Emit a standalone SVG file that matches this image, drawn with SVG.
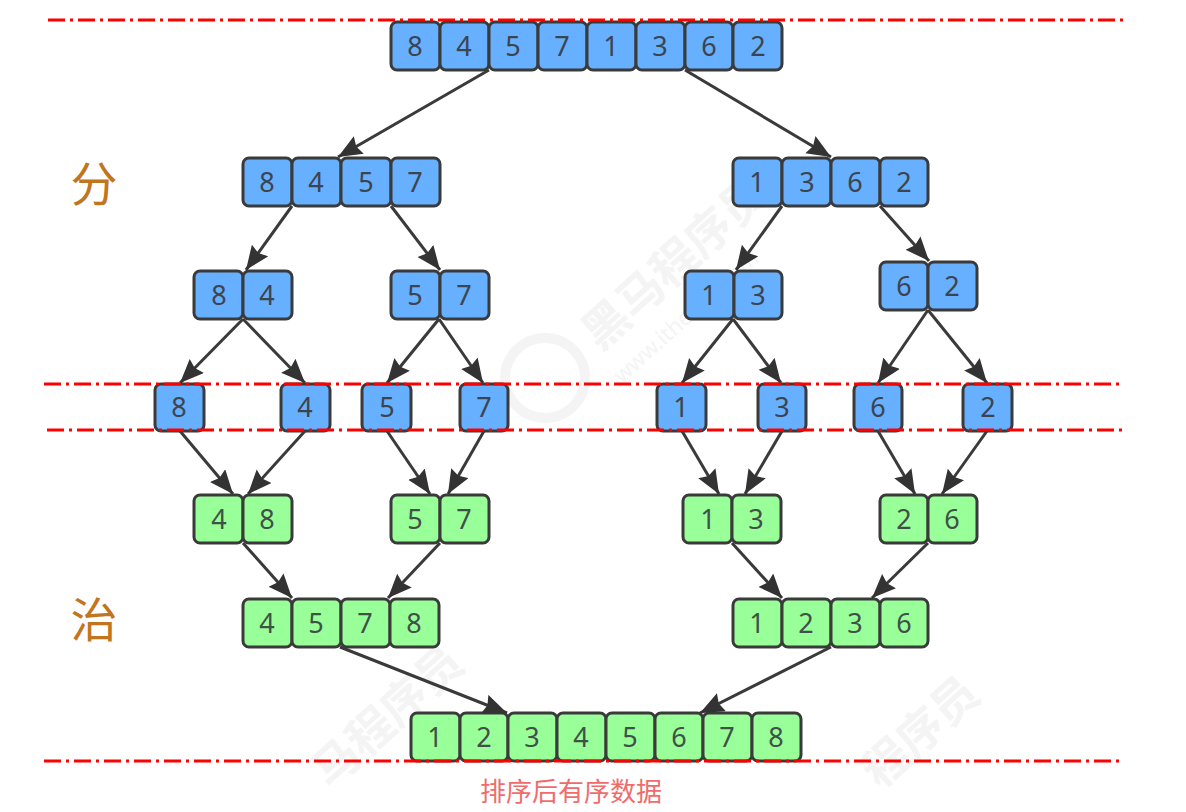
<svg xmlns="http://www.w3.org/2000/svg" width="1186" height="812" viewBox="0 0 1186 812">
<defs>
<marker id="ah" markerUnits="userSpaceOnUse" markerWidth="26" markerHeight="22" refX="24" refY="10" orient="auto"><path d="M0 0L24 10L0 20L3 10Z" fill="#333"/></marker>
</defs>
<style>
.b rect{fill:#66b0ff;stroke:#3a3a3a;stroke-width:3}
.g rect{fill:#99ff99;stroke:#3a3a3a;stroke-width:3}
.b text,.g text{font:27px "Noto Sans","DejaVu Sans",sans-serif;text-anchor:middle;fill:#3c4450}
.g text{fill:#3f5247}
#connectors line{stroke:#3a3a3a;stroke-width:3;marker-end:url(#ah)}
#guides line{stroke:#ff0000;stroke-width:3;stroke-dasharray:17 5 3 5}
.side{font:47px "Noto Sans CJK SC",sans-serif;fill:#c2751f;text-anchor:middle}
.cap{font:26px "Noto Sans CJK SC",sans-serif;fill:#f06c6c}
.wm{font:bold 46px "Noto Sans CJK SC",sans-serif;fill:#f4f4f4}
.wu{font:22px "Noto Sans",sans-serif;fill:#f4f4f4}
</style>
<g id="watermark">
<text class="wm" transform="translate(600 352) rotate(-42)">黑马程序员</text>
<text class="wu" transform="translate(622 384) rotate(-42)">www.itheima.com</text>
<circle cx="545" cy="378" r="40" fill="none" stroke="#f4f4f4" stroke-width="10"/>
<text class="wm" transform="translate(330 790) rotate(-42)">马程序员</text>
<text class="wm" transform="translate(880 790) rotate(-42)">程序员</text>
</g>
<g id="n0" class="b"><rect x="391" y="22" width="49" height="48" rx="6"/><text x="415" y="56">8</text><rect x="440" y="22" width="49" height="48" rx="6"/><text x="464" y="56">4</text><rect x="489" y="22" width="49" height="48" rx="6"/><text x="513" y="56">5</text><rect x="538" y="22" width="49" height="48" rx="6"/><text x="562" y="56">7</text><rect x="587" y="22" width="49" height="48" rx="6"/><text x="611" y="56">1</text><rect x="636" y="22" width="49" height="48" rx="6"/><text x="660" y="56">3</text><rect x="685" y="22" width="48" height="48" rx="6"/><text x="709" y="56">6</text><rect x="733" y="22" width="49" height="48" rx="6"/><text x="758" y="56">2</text></g>
<g id="n1" class="b"><rect x="243" y="158" width="49" height="48" rx="6"/><text x="267" y="192">8</text><rect x="292" y="158" width="49" height="48" rx="6"/><text x="316" y="192">4</text><rect x="341" y="158" width="50" height="48" rx="6"/><text x="366" y="192">5</text><rect x="391" y="158" width="49" height="48" rx="6"/><text x="415" y="192">7</text></g>
<g id="n2" class="b"><rect x="733" y="158" width="49" height="48" rx="6"/><text x="757" y="192">1</text><rect x="782" y="158" width="49" height="48" rx="6"/><text x="807" y="192">3</text><rect x="831" y="158" width="49" height="48" rx="6"/><text x="855" y="192">6</text><rect x="880" y="158" width="48" height="48" rx="6"/><text x="904" y="192">2</text></g>
<g id="n3" class="b"><rect x="194" y="271" width="49" height="48" rx="6"/><text x="219" y="305">8</text><rect x="243" y="271" width="49" height="48" rx="6"/><text x="267" y="305">4</text></g>
<g id="n4" class="b"><rect x="391" y="271" width="49" height="48" rx="6"/><text x="415" y="305">5</text><rect x="440" y="271" width="49" height="48" rx="6"/><text x="464" y="305">7</text></g>
<g id="n5" class="b"><rect x="685" y="271" width="49" height="48" rx="6"/><text x="709" y="305">1</text><rect x="734" y="271" width="48" height="48" rx="6"/><text x="758" y="305">3</text></g>
<g id="n6" class="b"><rect x="880" y="262" width="48" height="48" rx="6"/><text x="904" y="296">6</text><rect x="928" y="262" width="49" height="48" rx="6"/><text x="952" y="296">2</text></g>
<g id="n7" class="b"><rect x="155" y="384" width="49" height="47" rx="6"/><text x="179" y="417">8</text></g>
<g id="n8" class="b"><rect x="281" y="384" width="49" height="47" rx="6"/><text x="305" y="417">4</text></g>
<g id="n9" class="b"><rect x="362" y="384" width="49" height="47" rx="6"/><text x="387" y="417">5</text></g>
<g id="n10" class="b"><rect x="460" y="384" width="48" height="47" rx="6"/><text x="484" y="417">7</text></g>
<g id="n11" class="b"><rect x="657" y="384" width="49" height="47" rx="6"/><text x="681" y="417">1</text></g>
<g id="n12" class="b"><rect x="758" y="384" width="48" height="47" rx="6"/><text x="782" y="417">3</text></g>
<g id="n13" class="b"><rect x="854" y="384" width="48" height="47" rx="6"/><text x="878" y="417">6</text></g>
<g id="n14" class="b"><rect x="963" y="384" width="49" height="47" rx="6"/><text x="988" y="417">2</text></g>
<g id="n15" class="g"><rect x="194" y="495" width="49" height="48" rx="6"/><text x="219" y="529">4</text><rect x="243" y="495" width="49" height="48" rx="6"/><text x="267" y="529">8</text></g>
<g id="n16" class="g"><rect x="391" y="495" width="49" height="48" rx="6"/><text x="415" y="529">5</text><rect x="440" y="495" width="49" height="48" rx="6"/><text x="464" y="529">7</text></g>
<g id="n17" class="g"><rect x="683" y="495" width="49" height="48" rx="6"/><text x="708" y="529">1</text><rect x="732" y="495" width="49" height="48" rx="6"/><text x="756" y="529">3</text></g>
<g id="n18" class="g"><rect x="880" y="495" width="48" height="48" rx="6"/><text x="904" y="529">2</text><rect x="928" y="495" width="49" height="48" rx="6"/><text x="952" y="529">6</text></g>
<g id="n19" class="g"><rect x="243" y="599" width="49" height="48" rx="6"/><text x="267" y="633">4</text><rect x="292" y="599" width="49" height="48" rx="6"/><text x="316" y="633">5</text><rect x="341" y="599" width="49" height="48" rx="6"/><text x="365" y="633">7</text><rect x="390" y="599" width="49" height="48" rx="6"/><text x="414" y="633">8</text></g>
<g id="n20" class="g"><rect x="733" y="599" width="49" height="48" rx="6"/><text x="757" y="633">1</text><rect x="782" y="599" width="49" height="48" rx="6"/><text x="806" y="633">2</text><rect x="831" y="599" width="49" height="48" rx="6"/><text x="855" y="633">3</text><rect x="880" y="599" width="48" height="48" rx="6"/><text x="904" y="633">6</text></g>
<g id="n21" class="g"><rect x="411" y="713" width="49" height="48" rx="6"/><text x="435" y="747">1</text><rect x="460" y="713" width="48" height="48" rx="6"/><text x="484" y="747">2</text><rect x="508" y="713" width="49" height="48" rx="6"/><text x="532" y="747">3</text><rect x="557" y="713" width="49" height="48" rx="6"/><text x="581" y="747">4</text><rect x="606" y="713" width="49" height="48" rx="6"/><text x="630" y="747">5</text><rect x="655" y="713" width="48" height="48" rx="6"/><text x="679" y="747">6</text><rect x="703" y="713" width="49" height="48" rx="6"/><text x="727" y="747">7</text><rect x="752" y="713" width="49" height="48" rx="6"/><text x="776" y="747">8</text></g>
<g id="connectors">
<line x1="489" y1="70" x2="338" y2="157"/><line x1="685" y1="70" x2="831" y2="157"/>
<line x1="292" y1="206" x2="246" y2="270"/><line x1="391" y1="206" x2="440" y2="270"/><line x1="782" y1="206" x2="736" y2="270"/><line x1="880" y1="206" x2="929" y2="261"/>
<line x1="243" y1="319" x2="180" y2="383"/><line x1="243" y1="319" x2="305" y2="383"/><line x1="439" y1="319" x2="387" y2="383"/><line x1="439" y1="319" x2="483" y2="383"/><line x1="733" y1="319" x2="682" y2="383"/><line x1="733" y1="319" x2="781" y2="383"/><line x1="928" y1="310" x2="878" y2="383"/><line x1="928" y1="310" x2="987" y2="383"/>
<line x1="180" y1="431" x2="233" y2="494"/><line x1="305" y1="431" x2="248" y2="494"/><line x1="387" y1="431" x2="430" y2="494"/><line x1="484" y1="431" x2="448" y2="494"/><line x1="682" y1="431" x2="719" y2="494"/><line x1="782" y1="431" x2="745" y2="494"/><line x1="878" y1="431" x2="915" y2="494"/><line x1="987" y1="431" x2="942" y2="494"/>
<line x1="243" y1="543" x2="292" y2="598"/><line x1="440" y1="543" x2="388" y2="598"/><line x1="732" y1="543" x2="782" y2="598"/><line x1="928" y1="543" x2="872" y2="598"/>
<line x1="340" y1="647" x2="507" y2="713"/><line x1="831" y1="647" x2="700" y2="713"/>
</g>
<g id="guides">
<line x1="48" y1="20" x2="1126" y2="20"/><line x1="44" y1="384" x2="1122" y2="384"/><line x1="47" y1="430" x2="1125" y2="430"/><line x1="44" y1="761" x2="1122" y2="761"/>
</g>
<text class="side" x="94" y="201">分</text>
<text class="side" x="94" y="637">治</text>
<text class="cap" x="480" y="801">排序后有序数据</text>
</svg>
